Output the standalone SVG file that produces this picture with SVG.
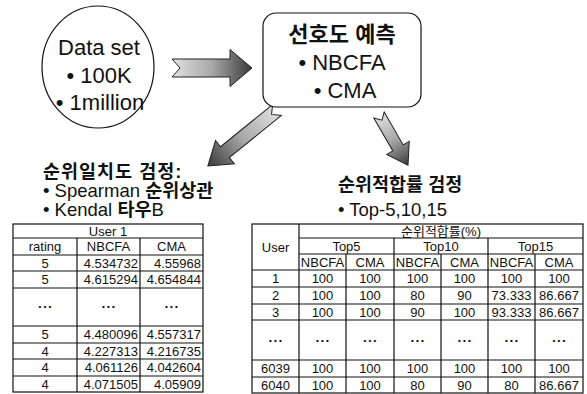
<svg xmlns="http://www.w3.org/2000/svg" width="587" height="394" viewBox="0 0 587 394">
<defs>
<linearGradient id="ag" x1="0" y1="0" x2="1" y2="0">
<stop offset="0" stop-color="#e0e0e0"/>
<stop offset="0.5" stop-color="#a8a8a8"/>
<stop offset="1" stop-color="#3a3a3a"/>
</linearGradient>
</defs>
<style>
text{font-family:"Liberation Sans","Noto Sans CJK KR",sans-serif;fill:#111}
.big{font-size:22px}
.mid{font-size:22px}
.hd{font-size:18.5px}
.k{font-weight:bold}
.t{font-size:13px;text-anchor:middle}
.r{font-size:13px;text-anchor:end}
.d{font-size:8px;font-weight:bold;text-anchor:middle}
.ln{stroke:#111;stroke-width:1.2;fill:none}
.arr{fill:url(#ag);stroke:#222;stroke-width:1}
</style>
<rect width="587" height="394" fill="#fff"/>

<g id="connectors">
<path class="arr" transform="translate(172,68)" d="M0,-9 L58,-9 L58,-18.5 L80,0 L58,18.5 L58,9 L0,9 L8,0 Z"/>
<path class="arr" transform="translate(277,110) rotate(141)" d="M0,-7 L67,-7 L67,-15 L89,0 L67,15 L67,7 L0,7 L7,0 Z"/>
<path class="arr" transform="translate(379,115) rotate(60)" d="M0,-6 L38,-6 L38,-13 L58,0 L38,13 L38,6 L0,6 L6,0 Z"/>
</g>

<g id="dataset">
<ellipse cx="98" cy="67" rx="56" ry="61" fill="#fff" stroke="#111" stroke-width="1.2"/>
<text class="big" x="99" y="55" text-anchor="middle">Data set</text>
<text class="big" x="99" y="83" text-anchor="middle">• 100K</text>
<text class="big" x="100" y="110" text-anchor="middle">• 1million</text>
</g>

<g id="predict">
<rect x="263" y="13" width="158" height="94" rx="13" fill="#fff" stroke="#111" stroke-width="1.2"/>
<text class="mid k" x="342" y="42" text-anchor="middle">선호도 예측</text>
<text class="mid" x="342" y="70" text-anchor="middle">• NBCFA</text>
<text class="mid" x="345" y="98" text-anchor="middle">• CMA</text>
</g>

<g id="rank-corr">
<text class="hd k" x="43" y="178" letter-spacing="1">순위일치도 검정:</text>
<text class="hd" x="43" y="197">• Spearman <tspan class="k">순위상관</tspan></text>
<text class="hd" x="43" y="216">• Kendal <tspan class="k">타우</tspan>B</text>
</g>

<g id="rank-fit">
<text class="hd k" x="338" y="191">순위적합률 검정</text>
<text class="hd" x="338" y="216">• Top-5,10,15</text>
</g>

<g id="table-left">
<rect class="ln" x="13" y="224" width="190" height="168"/>
<path class="ln" d="M13,238H203 M13,255H203 M13,271H203 M13,288H203 M13,326H203 M13,343H203 M13,359H203 M13,376H203 M77,238V392 M140,238V392"/>
<text class="t" x="108" y="235.5">User 1</text>
<text class="t" x="45" y="251">rating</text>
<text class="t" x="108.5" y="251">NBCFA</text>
<text class="t" x="171.5" y="251">CMA</text>
<text class="t" x="45" y="267.5">5</text><text class="r" x="138" y="267.5">4.534732</text><text class="r" x="201" y="267.5">4.55968</text>
<text class="t" x="45" y="284">5</text><text class="r" x="138" y="284">4.615294</text><text class="r" x="201" y="284">4.654844</text>
<text class="d" x="45" y="309">• • •</text><text class="d" x="108.5" y="309">• • •</text><text class="d" x="171.5" y="309">• • •</text>
<text class="t" x="45" y="339">5</text><text class="r" x="138" y="339">4.480096</text><text class="r" x="201" y="339">4.557317</text>
<text class="t" x="45" y="355.5">4</text><text class="r" x="138" y="355.5">4.227313</text><text class="r" x="201" y="355.5">4.216735</text>
<text class="t" x="45" y="372">4</text><text class="r" x="138" y="372">4.061126</text><text class="r" x="201" y="372">4.042604</text>
<text class="t" x="45" y="388.5">4</text><text class="r" x="138" y="388.5">4.071505</text><text class="r" x="201" y="388.5">4.05909</text>
</g>

<g id="table-right">
<rect class="ln" x="252" y="224" width="331" height="169"/>
<path class="ln" d="M299,224V393 M299,238H583 M394,238V393 M488,238V393 M299,254H583 M346,254V393 M441,254V393 M535,254V393 M252,270H583 M252,287H583 M252,304H583 M252,320H583 M252,360H583 M252,377H583"/>
<text class="t" x="441" y="235.5">순위적합률(%)</text>
<text class="t" x="275.5" y="251.5">User</text>
<text class="t" x="346.5" y="250.5">Top5</text>
<text class="t" x="441" y="250.5">Top10</text>
<text class="t" x="535.5" y="250.5">Top15</text>
<text class="t" x="322.5" y="266.5">NBCFA</text><text class="t" x="370" y="266.5">CMA</text>
<text class="t" x="417.5" y="266.5">NBCFA</text><text class="t" x="464.5" y="266.5">CMA</text>
<text class="t" x="511.5" y="266.5">NBCFA</text><text class="t" x="559" y="266.5">CMA</text>
<text class="t" x="275.5" y="283">1</text><text class="t" x="322.5" y="283">100</text><text class="t" x="370" y="283">100</text><text class="t" x="417.5" y="283">100</text><text class="t" x="464.5" y="283">100</text><text class="t" x="511.5" y="283">100</text><text class="t" x="559" y="283">100</text>
<text class="t" x="275.5" y="300">2</text><text class="t" x="322.5" y="300">100</text><text class="t" x="370" y="300">100</text><text class="t" x="417.5" y="300">80</text><text class="t" x="464.5" y="300">90</text><text class="t" x="511.5" y="300">73.333</text><text class="t" x="559" y="300">86.667</text>
<text class="t" x="275.5" y="316.5">3</text><text class="t" x="322.5" y="316.5">100</text><text class="t" x="370" y="316.5">100</text><text class="t" x="417.5" y="316.5">90</text><text class="t" x="464.5" y="316.5">100</text><text class="t" x="511.5" y="316.5">93.333</text><text class="t" x="559" y="316.5">86.667</text>
<text class="d" x="275.5" y="343">• • •</text><text class="d" x="322.5" y="343">• • •</text><text class="d" x="370" y="343">• • •</text><text class="d" x="417.5" y="343">• • •</text><text class="d" x="464.5" y="343">• • •</text><text class="d" x="511.5" y="343">• • •</text><text class="d" x="559" y="343">• • •</text>
<text class="t" x="275.5" y="373">6039</text><text class="t" x="322.5" y="373">100</text><text class="t" x="370" y="373">100</text><text class="t" x="417.5" y="373">100</text><text class="t" x="464.5" y="373">100</text><text class="t" x="511.5" y="373">100</text><text class="t" x="559" y="373">100</text>
<text class="t" x="275.5" y="389.5">6040</text><text class="t" x="322.5" y="389.5">100</text><text class="t" x="370" y="389.5">100</text><text class="t" x="417.5" y="389.5">80</text><text class="t" x="464.5" y="389.5">90</text><text class="t" x="511.5" y="389.5">80</text><text class="t" x="559" y="389.5">86.667</text>
</g>
</svg>
